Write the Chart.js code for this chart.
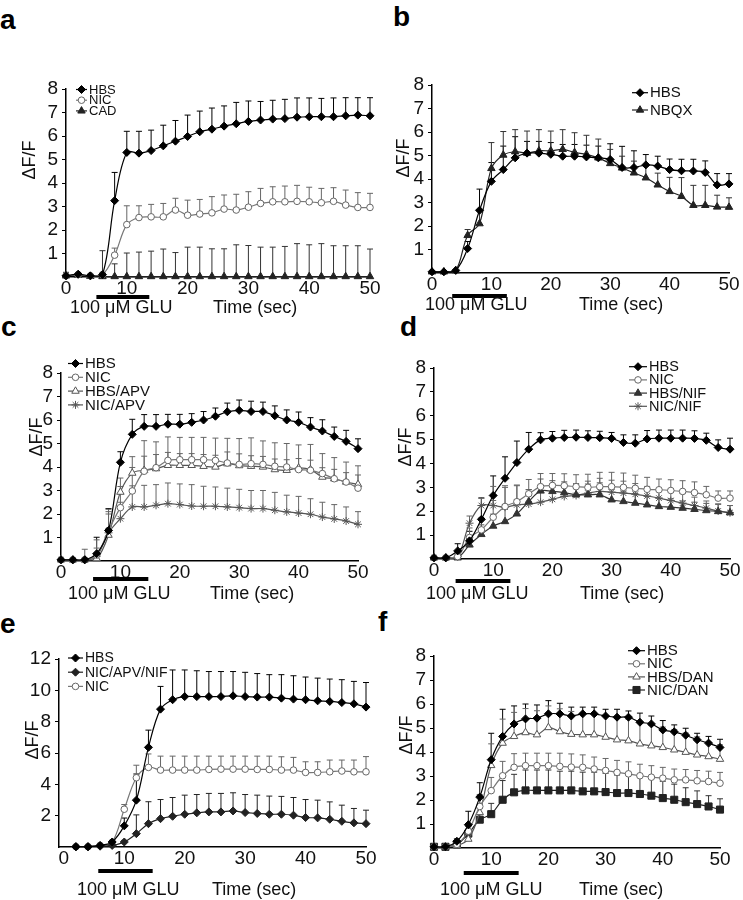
<!DOCTYPE html>
<html><head><meta charset="utf-8">
<script src="https://cdn.jsdelivr.net/npm/chart.js@4.4.1/dist/chart.umd.min.js"></script>
<style>
html,body{margin:0;padding:0;background:#fff;}
body{width:743px;height:900px;position:relative;overflow:hidden;}
canvas{position:absolute;}
.plabel{position:absolute;font-family:"Liberation Sans",Arial,sans-serif;font-weight:bold;font-size:28px;line-height:1;color:#000;}
</style></head><body>
<div class="plabel" style="left:0px;top:6px">a</div>
<div class="plabel" style="left:393px;top:3px">b</div>
<div class="plabel" style="left:1px;top:313px">c</div>
<div class="plabel" style="left:400px;top:313px">d</div>
<div class="plabel" style="left:0px;top:610px">e</div>
<div class="plabel" style="left:378px;top:608px">f</div>
<script>
// ---------- DATA ----------
const T26 = [0,2,4,6,8,10,12,14,16,18,20,22,24,26,28,30,32,34,36,38,40,42,44,46,48,50];
const T25 = [2,4,6,8,10,12,14,16,18,20,22,24,26,28,30,32,34,36,38,40,42,44,46,48,50];
const xTickVals = [0,10,20,30,40,50];
const yTicks8 = [1,2,3,4,5,6,7,8];
const yTicks12 = [2,4,6,8,10,12];

// panel a
const aHBS = [0.05,0.12,0.05,0.1,3.25,5.3,5.27,5.38,5.58,5.78,5.98,6.18,6.29,6.42,6.52,6.62,6.68,6.72,6.74,6.8,6.82,6.82,6.82,6.86,6.89,6.86];
const aHBSErr = [0,0,0,0,1.2,0.9,0.93,0.87,0.88,0.88,0.91,0.88,0.9,0.86,0.91,0.87,0.79,0.8,0.82,0.82,0.8,0.78,0.8,0.77,0.74,0.77];
const aNIC = [0.05,0.1,0.05,0.1,0.93,2.23,2.53,2.56,2.56,2.85,2.63,2.68,2.73,2.89,2.85,2.97,3.13,3.2,3.2,3.22,3.2,3.16,3.22,3.06,2.96,2.96];
const aNICErr = [0,0,0,0,0.3,0.8,0.5,0.53,0.57,0.5,0.64,0.62,0.69,0.6,0.67,0.66,0.64,0.64,0.67,0.68,0.62,0.61,0.58,0.64,0.63,0.6];
const aCAD = [0.05,0.08,0.03,0.02,0.02,0.02,0.02,0.02,0.02,0.02,0.02,0.02,0.02,0.02,0.02,0.02,0.02,0.02,0.02,0.02,0.02,0.02,0.02,0.02,0.02,0.02];
const aCADErr = [0.15,0,0,1.1,0.54,1.0,1.04,1.08,1.17,1.02,1.25,1.25,1.18,1.18,1.35,1.32,1.25,1.25,1.28,1.4,1.35,1.4,1.31,1.31,1.31,1.17];
// panel b
const bHBS = [0.05,0.05,0.11,1.04,2.67,3.9,4.4,4.9,5.1,5.1,5.05,4.97,4.97,4.94,4.9,4.83,4.49,4.49,4.6,4.55,4.4,4.35,4.34,4.28,3.75,3.79];
const bHBSErr = [0,0,0,0.3,0.9,0.8,1.0,0.9,0.5,0.5,0.5,0.5,0.5,0.5,0.5,0.67,0.9,0.71,0.44,0.42,0.45,0.49,0.5,0.49,0.48,0.44];
const bNBQX = [0.05,0.05,0.1,1.6,2.1,4.45,5.02,5.16,5.1,5.2,5.2,5.26,5.13,5.05,4.9,4.66,4.47,4.26,4.05,3.75,3.47,3.26,2.88,2.88,2.81,2.8];
const bNBQXErr = [0,0,0,0.25,0.6,1.1,1.0,0.94,0.94,0.9,0.84,0.84,0.84,0.81,0.8,0.6,0.5,0.5,0.5,0.5,0.6,0.8,0.85,0.85,0.5,0.4];
// panel c
const cHBS = [0.05,0.05,0.05,0.31,1.3,4.2,5.39,5.73,5.73,5.82,5.82,5.9,6.0,6.16,6.35,6.41,6.36,6.36,6.18,6.0,5.9,5.7,5.53,5.3,5.09,4.78];
const cHBSErr = [0,0,0,0.7,0.93,0.45,0.64,0.5,0.5,0.42,0.42,0.37,0.36,0.35,0.37,0.44,0.44,0.4,0.42,0.43,0.44,0.4,0.48,0.4,0.47,0.42];
const cNIC = [0.05,0.05,0.05,0.25,1.3,2.27,2.98,3.82,3.97,4.28,4.31,4.31,4.31,4.28,4.17,4.11,4.14,4.11,4.03,4.0,3.89,3.86,3.72,3.5,3.36,3.1];
const cNICErr = [0,0,0,0.3,0.9,0.9,1.0,1.3,1.1,1.0,0.95,0.95,0.95,0.95,1.05,1.1,1.1,1.0,1.0,1.0,1.05,1.1,0.85,0.9,0.85,0.95];
const cHBSAPV = [0.05,0.05,0.05,0.1,1.1,2.93,3.74,3.86,3.93,4.07,4.07,4.07,4.03,4.0,4.14,4.06,4.03,4.0,3.89,3.86,3.96,3.89,3.57,3.5,3.36,3.26];
const cHBSAPVErr = [0,0,0,0.2,0.9,0.6,0.7,0.6,0.6,0.55,0.5,0.5,0.5,0.5,0.5,0.5,0.45,0.45,0.45,0.45,0.4,0.4,0.4,0.4,0.4,0.4];
const cNICAPV = [0.05,0.05,0.05,0.2,1.2,1.8,2.3,2.3,2.37,2.44,2.4,2.34,2.33,2.33,2.3,2.27,2.23,2.23,2.16,2.09,2.04,1.99,1.87,1.79,1.7,1.56];
const cNICAPVErr = [0,0,0.45,0.7,0.9,0.7,0.9,0.92,0.88,0.88,0.88,0.91,0.85,0.82,0.8,0.78,0.77,0.77,0.76,0.71,0.71,0.66,0.63,0.61,0.6,0.54];
// panel d
const dHBS = [0.05,0.05,0.34,0.76,1.66,2.66,3.38,4.04,4.6,4.99,5.06,5.09,5.1,5.09,5.08,5.05,4.88,4.85,5.03,5.06,5.06,5.06,5.05,4.97,4.67,4.6];
const dHBSErr = [0,0,0.3,0.4,0.9,0.82,0.9,0.9,0.7,0.3,0.28,0.3,0.3,0.28,0.27,0.25,0.32,0.35,0.35,0.34,0.34,0.34,0.32,0.3,0.32,0.46];
const dNIC = [0.05,0.05,0.1,0.9,1.22,1.75,2.2,2.4,2.73,3.03,3.08,3.07,3.03,3.0,3.03,3.03,3.0,2.96,2.92,2.9,2.87,2.83,2.78,2.69,2.55,2.55];
const dNICErr = [0,0,0.1,0.4,0.5,0.7,0.8,0.7,0.6,0.55,0.5,0.5,0.5,0.55,0.6,0.6,0.6,0.55,0.5,0.45,0.45,0.45,0.45,0.35,0.3,0.3];
const dHBSNIF = [0.05,0.05,0.05,0.59,1.03,1.38,1.57,1.89,2.41,2.85,2.83,2.78,2.69,2.69,2.69,2.48,2.41,2.34,2.27,2.2,2.17,2.13,2.08,2.03,1.99,1.94];
const dHBSNIFErr = [0,0,0.1,0.3,0.4,0.5,0.6,0.6,0.5,0.5,0.45,0.45,0.45,0.45,0.5,0.45,0.4,0.4,0.35,0.35,0.35,0.3,0.3,0.3,0.3,0.3];
const dNICNIF = [0.05,0.05,0.1,1.5,2.24,2.24,2.17,2.27,2.3,2.38,2.5,2.62,2.66,2.76,2.83,2.8,2.76,2.71,2.64,2.55,2.45,2.34,2.24,2.13,2.01,1.94];
const dNICNIFErr = [0,0,0.1,0.3,0.3,0.8,0.9,0.8,0.6,0.7,0.5,0.5,0.5,0.5,0.55,0.5,0.5,0.45,0.4,0.4,0.4,0.4,0.35,0.3,0.3,0.3];
// panel e
const eHBS = [0.02,0.02,0.1,0.32,1.35,2.99,6.36,8.8,9.4,9.6,9.6,9.6,9.6,9.65,9.6,9.57,9.57,9.5,9.44,9.4,9.33,9.29,9.22,9.14,8.93];
const eHBSErr = [0,0,0,0,0.5,1.67,1.1,1.45,1.9,1.7,1.65,1.6,1.6,1.55,1.55,1.5,1.43,1.5,1.49,1.45,1.45,1.43,1.46,1.43,1.57];
const eNICAPVNIF = [0.02,0.02,0.05,0.1,0.32,0.85,1.49,1.81,1.96,2.09,2.18,2.24,2.24,2.3,2.2,2.14,2.09,2.09,2.03,1.88,1.86,1.77,1.64,1.54,1.49];
const eNICAPVNIFErr = [0,0,0,0,0.1,1.2,1.4,1.22,1.2,1.22,1.17,1.18,1.18,1.16,1.15,1.17,1.16,1.14,1.13,1.15,1.13,1.11,1.03,0.92,0.86];
const eNIC = [0.02,0.02,0.1,0.3,2.41,4.42,5.08,4.91,4.91,4.91,4.91,4.95,4.97,4.97,4.97,4.95,4.95,4.91,4.91,4.76,4.76,4.8,4.85,4.8,4.8];
const eNICErr = [0,0,0,0,0.3,0.8,0.86,0.89,0.89,0.89,0.89,0.85,0.83,0.83,0.83,0.85,0.85,0.85,0.81,0.68,0.68,0.75,0.7,0.75,0.97];
// panel f
const fHBS = [0.05,0.05,0.28,0.97,2.12,3.68,4.65,5.17,5.38,5.41,5.59,5.59,5.5,5.59,5.59,5.5,5.45,5.45,5.24,5.17,4.92,4.84,4.7,4.51,4.37,4.19];
const fHBSErr = [0,0,0.1,0.56,0.6,1.1,1.13,0.75,0.62,0.55,0.55,0.44,0.37,0.28,0.28,0.28,0.33,0.26,0.38,0.33,0.39,0.29,0.29,0.27,0.28,0.34];
const fNIC = [0.05,0.05,0.15,0.7,1.73,2.39,3.01,3.36,3.43,3.43,3.43,3.4,3.37,3.36,3.29,3.23,3.15,3.09,3.01,2.95,2.91,2.84,2.84,2.8,2.77,2.7];
const fNICErr = [0,0,0.1,0.3,0.5,0.55,0.6,0.57,0.52,0.52,0.52,0.55,0.55,0.52,0.5,0.5,0.5,0.5,0.48,0.48,0.45,0.45,0.43,0.43,0.43,0.45];
const fHBSDAN = [0.05,0.05,0.1,0.37,1.48,3.44,4.37,4.65,4.81,4.72,5.02,4.85,4.74,4.72,4.72,4.62,4.51,4.47,4.34,4.26,4.19,4.09,3.99,3.88,3.81,3.7];
const fHBSDANErr = [0,0,0.1,0.3,0.7,0.9,1.0,1.0,1.0,1.0,0.9,0.95,0.95,0.9,0.9,0.9,0.9,0.9,0.9,0.85,0.85,0.85,0.8,0.75,0.6,0.6];
const fNICDAN = [0.05,0.05,0.15,0.6,1.18,1.41,2.01,2.32,2.4,2.4,2.4,2.4,2.4,2.36,2.36,2.33,2.29,2.29,2.25,2.18,2.08,2.01,1.91,1.83,1.73,1.6];
const fNICDANErr = [0,0,0.1,0.3,0.5,0.45,0.8,0.75,0.85,0.85,0.85,0.8,0.8,0.8,0.8,0.78,0.75,0.75,0.72,0.72,0.7,0.65,0.6,0.55,0.45,0.45];

// stimulus periods (sec)
const stimA = [5,13.7], stimB = [3.4,12.6], stimC = [5.4,14.7], stimD = [3.65,12.9], stimE = [5.7,14.7], stimF = [5.2,14.8];

// ---------- STYLES ----------
const FONT = '"Liberation Sans", Arial, sans-serif';
const ST = {
  hbs:     {line:'#000', fill:'#000', stroke:'#000', point:'rectRot', r:4,   err:'#000'},
  nicO:    {line:'#777', fill:'#fff', stroke:'#666', point:'circle',  r:3.3, err:'#666'},
  triF:    {line:'#222', fill:'#222', stroke:'#222', point:'triangle',r:4.3, err:'#333'},
  triFg:   {line:'#333', fill:'#333', stroke:'#333', point:'triangle',r:4.3, err:'#555'},
  triO:    {line:'#555', fill:'#fff', stroke:'#555', point:'triangle',r:4.3, err:'#666'},
  star:    {line:'#555', fill:'#555', stroke:'#555', point:'star',    r:4,   err:'#666'},
  dia2:    {line:'#222', fill:'#222', stroke:'#222', point:'rectRot', r:4,   err:'#222'},
  sq:      {line:'#222', fill:'#222', stroke:'#222', point:'rect',    r:5,   err:'#333'}
};

// ---------- LAYOUT ----------
const panels = [
  {area:{l:66,r:370,t:89,b:277}, xmin:0, ymax:8, yTicks:yTicks8, t:T26, stim:stimA, barY:297,
   glu:{x:70,y:308}, time:{x:213,y:308}, ylab:{x:30,y:160},
   legend:{x:76,y:89.5,dy:10.7,len:11,font:13},
   series:[['HBS',aHBS,aHBSErr,'hbs'],['NIC',aNIC,aNICErr,'nicO'],['CAD',aCAD,aCADErr,'triF']]},
  {area:{l:432,r:729,t:85,b:273}, xmin:0, ymax:8, yTicks:yTicks8, t:T26, stim:stimB, barY:296,
   glu:{x:425,y:305}, time:{x:579,y:305}, ylab:{x:404,y:158},
   legend:{x:632,y:92.7,dy:17.3,len:16,font:15},
   series:[['HBS',bHBS,bHBSErr,'hbs'],['NBQX',bNBQX,bNBQXErr,'triF']]},
  {area:{l:61,r:358,t:373,b:561}, xmin:0, ymax:8, yTicks:yTicks8, t:T26, stim:stimC, barY:579,
   glu:{x:68,y:594}, time:{x:210,y:594}, ylab:{x:37,y:437},
   legend:{x:68,y:363.5,dy:13.8,len:15,font:15},
   series:[['HBS',cHBS,cHBSErr,'hbs'],['NIC',cNIC,cNICErr,'nicO'],['HBS/APV',cHBSAPV,cHBSAPVErr,'triO'],['NIC/APV',cNICAPV,cNICAPVErr,'star']]},
  {area:{l:434,r:730,t:368,b:559}, xmin:0, ymax:8, yTicks:yTicks8, t:T26, stim:stimD, barY:581,
   glu:{x:426,y:594}, time:{x:580,y:594}, ylab:{x:406,y:447},
   legend:{x:629,y:366.7,dy:13.2,len:18,font:14.5},
   series:[['HBS',dHBS,dHBSErr,'hbs'],['NIC',dNIC,dNICErr,'nicO'],['HBS/NIF',dHBSNIF,dHBSNIFErr,'triFg'],['NIC/NIF',dNICNIF,dNICNIFErr,'star']]},
  {area:{l:59,r:366,t:659,b:847}, xmin:-0.8, ymax:12, yTicks:yTicks12, t:T25, stim:stimE, barY:871,
   glu:{x:77,y:890}, time:{x:212,y:890}, ylab:{x:33,y:740},
   legend:{x:68,y:658,dy:14.2,len:15,font:14},
   series:[['HBS',eHBS,eHBSErr,'hbs'],['NIC/APV/NIF',eNICAPVNIF,eNICAPVNIFErr,'dia2'],['NIC',eNIC,eNICErr,'nicO']]},
  {area:{l:434,r:720,t:656,b:848}, xmin:0, ymax:8, yTicks:yTicks8, t:T26, stim:stimF, barY:873,
   glu:{x:440,y:890}, time:{x:579,y:890}, ylab:{x:407,y:735},
   legend:{x:628,y:650.7,dy:13.1,len:17,font:15},
   series:[['HBS',fHBS,fHBSErr,'hbs'],['NIC',fNIC,fNICErr,'nicO'],['HBS/DAN',fHBSDAN,fHBSDANErr,'triO'],['NIC/DAN',fNICDAN,fNICDANErr,'sq']]}
];

function drawMarker(ctx, st, x, y){
  const r = st.r;
  ctx.save();
  ctx.fillStyle = st.fill; ctx.strokeStyle = st.stroke; ctx.lineWidth = 1;
  ctx.beginPath();
  if (st.point === 'rectRot') {
    ctx.moveTo(x-r,y); ctx.lineTo(x,y-r); ctx.lineTo(x+r,y); ctx.lineTo(x,y+r); ctx.closePath(); ctx.fill(); ctx.stroke();
  } else if (st.point === 'circle') {
    ctx.arc(x,y,r,0,Math.PI*2); ctx.fill(); ctx.stroke();
  } else if (st.point === 'triangle') {
    ctx.moveTo(x, y-r); ctx.lineTo(x+0.866*r, y+0.5*r); ctx.lineTo(x-0.866*r, y+0.5*r); ctx.closePath(); ctx.fill(); ctx.stroke();
  } else if (st.point === 'rect') {
    const h = r*Math.SQRT1_2; ctx.rect(x-h,y-h,2*h,2*h); ctx.fill(); ctx.stroke();
  } else if (st.point === 'star') {
    ctx.moveTo(x-r,y); ctx.lineTo(x+r,y); ctx.moveTo(x,y-r); ctx.lineTo(x,y+r);
    const d = r*Math.SQRT1_2;
    ctx.moveTo(x-d,y-d); ctx.lineTo(x+d,y+d); ctx.moveTo(x-d,y+d); ctx.lineTo(x+d,y-d); ctx.stroke();
  }
  ctx.restore();
}

const PADL = 70, PADT = 40, PADR = 16, PADB = 62;

panels.forEach(function(P){
  const A = P.area;
  const cx = A.l - PADL, cy = A.t - PADT;
  const W = (A.r - A.l) + PADL + PADR, H = (A.b - A.t) + PADT + PADB;
  const cv = document.createElement('canvas');
  cv.width = W; cv.height = H;
  cv.style.left = cx + 'px'; cv.style.top = cy + 'px';
  cv.style.width = W + 'px'; cv.style.height = H + 'px';
  document.body.appendChild(cv);

  const datasets = P.series.map(function(s){
    const st = ST[s[3]];
    return {
      label: s[0],
      data: P.t.map(function(x,i){ return {x:x, y:s[1][i]}; }),
      errs: s[2], st: st,
      borderColor: st.line, borderWidth: 1.2, tension: 0.35, fill:false, clip:false,
      pointStyle: st.point, pointRadius: st.r, pointBackgroundColor: st.fill,
      pointBorderColor: st.stroke, pointBorderWidth: 1
    };
  });

  const decor = {
    id:'decor',
    beforeDatasetsDraw: function(chart){
      const ctx = chart.ctx, ys = chart.scales.y;
      chart.data.datasets.forEach(function(ds, di){
        const meta = chart.getDatasetMeta(di);
        ctx.save(); ctx.strokeStyle = ds.st.err; ctx.lineWidth = 1;
        meta.data.forEach(function(pt, i){
          const e = ds.errs[i]; if (!e) return;
          const v = ds.data[i].y;
          const y0 = ys.getPixelForValue(v), y1 = ys.getPixelForValue(v + e);
          ctx.beginPath(); ctx.moveTo(pt.x, y0); ctx.lineTo(pt.x, y1);
          ctx.moveTo(pt.x - 3, y1); ctx.lineTo(pt.x + 3, y1); ctx.stroke();
        });
        ctx.restore();
      });
    },
    afterDraw: function(chart){
      const ctx = chart.ctx, xs = chart.scales.x;
      ctx.save();
      // stimulus bar
      ctx.fillStyle = '#000';
      const x0 = xs.getPixelForValue(P.stim[0]), x1 = xs.getPixelForValue(P.stim[1]);
      ctx.fillRect(x0, P.barY - cy - 2, x1 - x0, 4);
      // texts
      ctx.font = '18px ' + FONT; ctx.textBaseline = 'middle'; ctx.textAlign = 'left'; ctx.fillStyle = '#111';
      ctx.fillText('100 \u03BCM GLU', P.glu.x - cx, P.glu.y - cy);
      ctx.fillText('Time (sec)', P.time.x - cx, P.time.y - cy);
      // y title
      ctx.save();
      ctx.translate(P.ylab.x - cx, P.ylab.y - cy); ctx.rotate(-Math.PI/2);
      ctx.textAlign = 'center'; ctx.font = '18px ' + FONT;
      ctx.fillText('\u0394F/F', 0, 0);
      ctx.restore();
      // legend
      const L = P.legend;
      ctx.font = L.font + 'px ' + FONT; ctx.textBaseline = 'middle';
      chart.data.datasets.forEach(function(ds, i){
        const y = L.y + i*L.dy - cy, x = L.x - cx;
        ctx.strokeStyle = ds.st.line; ctx.lineWidth = 1.2;
        ctx.beginPath(); ctx.moveTo(x, y); ctx.lineTo(x + L.len, y); ctx.stroke();
        drawMarker(ctx, ds.st, x + L.len/2, y);
        ctx.fillStyle = '#111';
        ctx.fillText(ds.label, x + L.len + 2, y + 0.5);
      });
      ctx.restore();
    }
  };

  new Chart(cv, {
    type:'line',
    data:{datasets:datasets},
    options:{
      responsive:false, animation:false, devicePixelRatio:1,
      layout:{padding:{left:0, top:PADT, right:PADR, bottom:0}},
      plugins:{legend:{display:false}, tooltip:{enabled:false}},
      scales:{
        x:{type:'linear', min:P.xmin, max:50,
           afterFit:function(s){ s.height = PADB; },
           afterBuildTicks:function(s){ s.ticks = xTickVals.map(function(v){return {value:v};}); },
           grid:{display:false, drawTicks:false},
           border:{display:true, color:'#000', width:1.5},
           ticks:{padding:0, font:{size:19, family:FONT}, color:'#111', maxRotation:0, autoSkip:false}},
        y:{type:'linear', min:0, max:P.ymax,
           afterFit:function(s){ s.width = PADL; },
           afterBuildTicks:function(s){ s.ticks = P.yTicks.map(function(v){return {value:v};}); },
           grid:{display:true, drawOnChartArea:false, drawTicks:true, tickLength:4, color:'#000', lineWidth:1},
           border:{display:true, color:'#000', width:1.5},
           ticks:{padding:4, font:{size:19, family:FONT}, color:'#111', autoSkip:false}}
      }
    },
    plugins:[decor]
  });
});
</script>
</body></html>
